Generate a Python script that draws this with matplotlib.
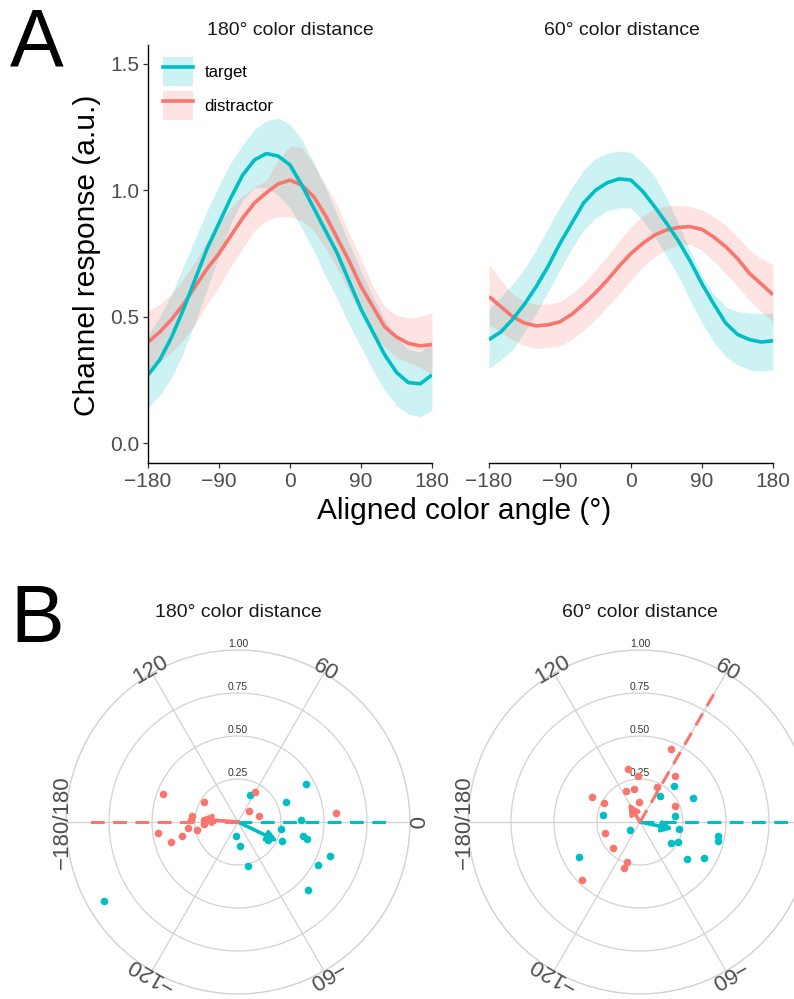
import matplotlib.pyplot as plt
import numpy as np
from matplotlib.patches import Patch
from matplotlib.lines import Line2D

plt.rcParams['font.family'] = ['Liberation Sans', 'DejaVu Sans']
plt.rcParams['axes.unicode_minus'] = True

TEAL = '#00BFC4'
SALMON = '#F8766D'
GRID = '#d2d2d2'
TICKCOL = '#4d4d4d'

# ---- Panel A: channel response curves (every 15 deg) ----
angle = np.arange(-180, 181, 15)

# 180 deg color distance
tgt180 = [0.27, 0.33, 0.42, 0.53, 0.65, 0.77, 0.87, 0.97, 1.06, 1.12, 1.145, 1.135, 1.10,
          1.02, 0.93, 0.84, 0.75, 0.64, 0.53, 0.44, 0.35, 0.28, 0.24, 0.235, 0.27]
tgt180_hi = [0.43, 0.50, 0.59, 0.70, 0.81, 0.92, 1.02, 1.11, 1.18, 1.24, 1.275, 1.285, 1.26,
             1.20, 1.11, 1.01, 0.90, 0.79, 0.68, 0.58, 0.49, 0.42, 0.37, 0.36, 0.41]
tgt180_lo = [0.14, 0.19, 0.26, 0.36, 0.48, 0.61, 0.74, 0.87, 0.96, 1.01, 1.01, 0.98, 0.93,
             0.85, 0.76, 0.66, 0.57, 0.47, 0.38, 0.29, 0.21, 0.15, 0.115, 0.105, 0.13]
dis180 = [0.40, 0.44, 0.49, 0.55, 0.62, 0.69, 0.75, 0.82, 0.89, 0.95, 0.99, 1.025, 1.04,
          1.02, 0.975, 0.90, 0.81, 0.72, 0.62, 0.54, 0.46, 0.42, 0.395, 0.385, 0.39]
dis180_hi = [0.52, 0.55, 0.59, 0.65, 0.72, 0.80, 0.87, 0.93, 0.98, 1.01, 1.04, 1.12, 1.175,
             1.17, 1.10, 1.02, 0.94, 0.83, 0.73, 0.62, 0.54, 0.505, 0.495, 0.50, 0.515]
dis180_lo = [0.29, 0.32, 0.36, 0.41, 0.47, 0.55, 0.62, 0.70, 0.77, 0.84, 0.88, 0.895, 0.895,
             0.88, 0.84, 0.77, 0.69, 0.60, 0.51, 0.44, 0.38, 0.34, 0.32, 0.30, 0.27]

# 60 deg color distance
tgt60 = [0.41, 0.44, 0.49, 0.55, 0.62, 0.70, 0.79, 0.87, 0.95, 1.00, 1.03, 1.045, 1.04,
         0.995, 0.935, 0.87, 0.80, 0.72, 0.63, 0.55, 0.475, 0.43, 0.41, 0.40, 0.405]
tgt60_hi = [0.53, 0.58, 0.63, 0.69, 0.765, 0.85, 0.935, 1.01, 1.08, 1.125, 1.146, 1.155, 1.15,
            1.11, 1.055, 0.97, 0.87, 0.76, 0.66, 0.59, 0.54, 0.52, 0.515, 0.514, 0.514]
tgt60_lo = [0.296, 0.33, 0.37, 0.44, 0.515, 0.60, 0.685, 0.77, 0.843, 0.89, 0.92, 0.93, 0.93,
            0.88, 0.817, 0.74, 0.66, 0.565, 0.475, 0.40, 0.342, 0.31, 0.29, 0.285, 0.29]
dis60 = [0.58, 0.54, 0.50, 0.475, 0.464, 0.468, 0.48, 0.51, 0.55, 0.595, 0.645, 0.70, 0.75,
         0.79, 0.823, 0.843, 0.853, 0.856, 0.845, 0.815, 0.777, 0.73, 0.672, 0.63, 0.587]
dis60_hi = [0.705, 0.645, 0.59, 0.56, 0.55, 0.55, 0.56, 0.59, 0.63, 0.685, 0.74, 0.80, 0.856,
            0.90, 0.928, 0.938, 0.94, 0.935, 0.922, 0.895, 0.863, 0.815, 0.764, 0.73, 0.705]
dis60_lo = [0.47, 0.44, 0.408, 0.385, 0.375, 0.378, 0.385, 0.41, 0.447, 0.49, 0.54, 0.59, 0.645,
            0.695, 0.738, 0.765, 0.784, 0.785, 0.764, 0.72, 0.672, 0.62, 0.566, 0.52, 0.48]

# ---- Panel B: individual vectors (angle deg, length) ----
tgt180_pt_ang = [29.1, 66.4, 22.8, 2.1, -9.3, -23.9, -31.4, -11.9, -13.6, -20.4, -28.1, -43.9,
                 -97.0, -84.5, -76.7, -149.6]
tgt180_pt_r = [0.455, 0.169, 0.30, 0.368, 0.251, 0.278, 0.204, 0.386, 0.413, 0.568, 0.527, 0.567,
               0.08, 0.142, 0.261, 0.903]
dis180_pt_ang = [159.4, 148.9, 59.7, 44.1, 14.9, 5.2, 172.9, 177.2, 176.0, -177.2, -173.2,
                 -169.4, -172.0, -163.0, -165.6, 175.0]
dis180_pt_r = [0.468, 0.229, 0.20, 0.092, 0.128, 0.574, 0.268, 0.276, 0.20, 0.20, 0.293,
               0.243, 0.472, 0.405, 0.334, 0.175]

tgt60_pt_ang = [46.4, 53.3, 23.9, 9.2, -10.1, -27.6, -33.8, -9.9, -13.6, -37.8, -29.1, -141.0,
                168.7, -150.0]
tgt60_pt_r = [0.286, 0.191, 0.339, 0.206, 0.232, 0.247, 0.219, 0.46, 0.469, 0.348, 0.426, 0.077,
              0.217, 0.41]
dis60_pt_ang = [67.1, 52.7, 64.3, 102.7, 92.0, 115.0, 100.3, 92.0, 23.9, 152.3, 152.4, -162.4,
                -135.7, -107.6, -109.3, -134.8]
dis60_pt_r = [0.463, 0.339, 0.224, 0.318, 0.27, 0.197, 0.195, 0.114, 0.225, 0.313, 0.234,
              0.211, 0.217, 0.244, 0.281, 0.475]

# group mean vectors (angle, length) and mean direction lines
mean180 = {'target': (-25.8, 0.258), 'distractor': (175.5, 0.224)}
mean60 = {'target': (-11.9, 0.198), 'distractor': (121.6, 0.13)}
dir180 = {'target': 0, 'distractor': 180}
dir60 = {'target': 0, 'distractor': 60}
dir_len = 0.86

fig = plt.figure(figsize=(7.94, 9.99), dpi=100)
W, H = 794, 999


def fx(px):
    return px / W


def fy(py):
    return 1 - py / H


# ---- Panel A axes ----
ax1 = fig.add_axes([fx(148), fy(463), 284 / W, 418 / H])
ax2 = fig.add_axes([fx(489), fy(463), 284 / W, 418 / H])

for ax, t, th, tl, d, dh, dl in [(ax1, tgt180, tgt180_hi, tgt180_lo, dis180, dis180_hi, dis180_lo),
                                 (ax2, tgt60, tgt60_hi, tgt60_lo, dis60, dis60_hi, dis60_lo)]:
    ax.fill_between(angle, tl, th, color=TEAL, alpha=0.2, lw=0)
    ax.fill_between(angle, dl, dh, color=SALMON, alpha=0.2, lw=0)
    ax.plot(angle, d, color=SALMON, lw=2.6, solid_capstyle='butt', solid_joinstyle='round')
    ax.plot(angle, t, color=TEAL, lw=2.6, solid_capstyle='butt', solid_joinstyle='round')
    ax.set_xlim(-180, 180)
    ax.set_ylim(-0.078, 1.574)
    ax.set_xticks([-180, -90, 0, 90, 180])
    ax.set_xticklabels(['\u2212180', '\u221290', '0', '90', '180'])
    ax.tick_params(axis='both', labelsize=15, labelcolor=TICKCOL, color='#333333',
                   length=3.4, width=0.9, pad=3)
    for s in ['top', 'right']:
        ax.spines[s].set_visible(False)
    ax.spines['bottom'].set_linewidth(1.0)
    ax.spines['left'].set_linewidth(1.0)

ax1.set_yticks([0, 0.5, 1.0, 1.5])
ax1.set_yticklabels(['0.0', '0.5', '1.0', '1.5'])
ax2.spines['left'].set_visible(False)
ax2.set_yticks([])

handles = [(Patch(facecolor=TEAL, alpha=0.2, lw=0), Line2D([], [], color=TEAL, lw=2.6)),
           (Patch(facecolor=SALMON, alpha=0.2, lw=0), Line2D([], [], color=SALMON, lw=2.6))]
ax1.legend(handles, ['target', 'distractor'], loc='upper left', bbox_to_anchor=(0.053, 0.971),
           frameon=False, fontsize=12, handlelength=1.8, handleheight=2.3, labelspacing=0.3,
           handletextpad=0.7, borderpad=0, borderaxespad=0)

fig.text(fx(87), fy(255), 'Channel response (a.u.)', rotation=90, ha='center', va='center',
         fontsize=21.5)
fig.text(fx(464), fy(511), 'Aligned color angle (\u00b0)', ha='center', va='center', fontsize=21.5)
fig.text(fx(290), fy(35), '180\u00b0 color distance', ha='center', va='baseline', fontsize=14,
         color='#1a1a1a')
fig.text(fx(622), fy(35), '60\u00b0 color distance', ha='center', va='baseline', fontsize=14,
         color='#1a1a1a')
fig.text(fx(10), fy(65), 'A', ha='left', va='baseline', fontsize=58)
fig.text(fx(10), fy(642), 'B', ha='left', va='baseline', fontsize=58)

# ---- Panel B polar axes ----
R = 172
theta_labels = {0: '0', 60: '60', 120: '120', 180: '\u2212180/180', 240: '\u2212120', 300: '\u221260'}


def polar_panel(cx, cy, tang, tr, dang, dr, means, dirs, title, skip=()):
    ax = fig.add_axes([fx(cx - R), fy(cy + R), 2 * R / W, 2 * R / H], projection='polar')
    ax.set_ylim(0, 1.0)
    ax.set_xticks(np.deg2rad([0, 60, 120, 180, 240, 300]))
    ax.set_xticklabels([])
    ax.set_yticks([0.25, 0.5, 0.75, 1.0])
    ax.set_yticklabels([])
    ax.grid(color=GRID, lw=0.9)
    ax.spines['polar'].set_color(GRID)
    ax.spines['polar'].set_linewidth(0.9)
    ax.tick_params(length=0)
    for rr in [0.25, 0.5, 0.75, 1.0]:
        ax.text(np.pi / 2, rr + 0.004, f'{rr:.2f}', ha='center', va='bottom', fontsize=7.5,
                color='#333333')
    for deg, lab in theta_labels.items():
        if deg in skip:
            continue
        ax.text(np.deg2rad(deg), 1.02, lab, rotation=deg - 90, rotation_mode='anchor',
                ha='center', va='center', fontsize=16, color=TICKCOL)
    for key, col in [('target', TEAL), ('distractor', SALMON)]:
        th = np.deg2rad(dirs[key])
        ax.plot([th, th], [0, dir_len], color=col, lw=2.2, ls=(0, (4.5, 2.8)), zorder=3)
    ax.scatter(np.deg2rad(tang), tr, s=30, color=TEAL, lw=0, zorder=4)
    ax.scatter(np.deg2rad(dang), dr, s=30, color=SALMON, lw=0, zorder=4)
    for key, col in [('target', TEAL), ('distractor', SALMON)]:
        a, r = means[key]
        ax.annotate('', xy=(np.deg2rad(a), r), xytext=(0, 0),
                    arrowprops=dict(arrowstyle='-|>', color=col, lw=2.6, mutation_scale=16,
                                    shrinkA=0, shrinkB=0), zorder=5)
    fig.text(fx(cx), fy(617), title, ha='center', va='baseline', fontsize=14, color='#1a1a1a')
    return ax


polar_panel(238, 822, tgt180_pt_ang, tgt180_pt_r, dis180_pt_ang, dis180_pt_r,
            mean180, dir180, '180\u00b0 color distance')
# the right panel runs past the figure edge, so its "0" label is not visible
polar_panel(640, 822, tgt60_pt_ang, tgt60_pt_r, dis60_pt_ang, dis60_pt_r,
            mean60, dir60, '60\u00b0 color distance', skip=(0,))

fig.savefig('out.png', dpi=100)
